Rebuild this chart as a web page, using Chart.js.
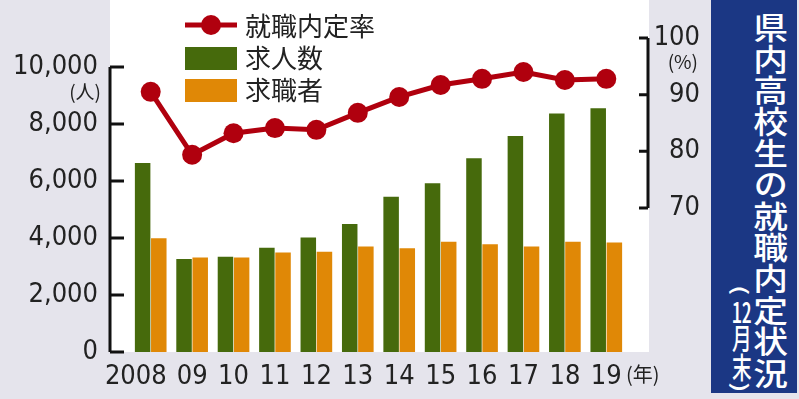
<!DOCTYPE html>
<html lang="ja">
<head>
<meta charset="utf-8">
<script src="https://cdn.jsdelivr.net/npm/chart.js@4.4.0/dist/chart.umd.min.js"></script>
<style>
  html, body { margin: 0; padding: 0; background: #e5e4ec; }
  #wrap { position: relative; width: 799px; height: 399px; overflow: hidden; }
  #chart { position: absolute; left: 0; top: 0; }
  .title-box { position: absolute; left: 711px; top: 0; width: 86px; height: 393px; background: #1b3784; }
  .title-main, .title-sub {
    position: absolute; writing-mode: vertical-rl; white-space: nowrap;
    font-family: "Noto Sans CJK JP", sans-serif; font-weight: 500; line-height: 1; color: #fff;
  }
  .title-main { left: 44px; top: 12px; font-size: 31px; letter-spacing: 0.4px; transform: scaleX(1.12); }
  .title-sub { left: 16px; top: 285px; font-size: 29px; transform: scaleX(0.68); }
  .tcy { text-combine-upright: all; }
</style>
</head>
<body>
<div id="wrap">
  <canvas id="chart" width="799" height="399"></canvas>
  <div class="title-box">
    <div class="title-main">県内高校生の就職内定状況</div>
    <div class="title-sub">(<span class="tcy">12</span>月末)</div>
  </div>
</div>
<script>
const years = ["2008", "09", "10", "11", "12", "13", "14", "15", "16", "17", "18", "19"];
const jobOffers = [6630, 3260, 3340, 3660, 4020, 4490, 5450, 5920, 6800, 7580, 8370, 8550];
const jobSeekers = [3990, 3320, 3320, 3490, 3520, 3700, 3640, 3870, 3780, 3700, 3870, 3840];
const offerRate = [90.5, 79.4, 83.2, 84.1, 83.8, 86.8, 89.6, 91.7, 92.8, 94.0, 92.6, 92.8];
const countTicks = [0, 2000, 4000, 6000, 8000, 10000];
const rateTicks = [70, 80, 90, 100];

const RED = "#b0000e";
const GREEN = "#466a0c";
const ORANGE = "#e08806";
const NUM_FONT = "'DejaVu Sans Condensed', 'Liberation Sans Narrow', sans-serif";
const JP_FONT = "'Noto Sans CJK JP', sans-serif";
const NUM_SIZE = 27;

const decor = {
  id: "decor",
  beforeDraw(chart) {
    const { ctx, chartArea: a } = chart;
    ctx.save();
    ctx.fillStyle = "#e5e4ec";
    ctx.fillRect(0, 0, chart.width, chart.height);
    // white plot panel spans from left axis line to right axis line
    ctx.fillStyle = "#ffffff";
    ctx.fillRect(a.left - 20, 0, a.right - a.left + 42, a.bottom);
    ctx.restore();
  },
  afterDraw(chart) {
    const { ctx, chartArea: a, scales } = chart;
    const y = scales.y, yr = scales.yRate, xs = scales.x;
    const lx = a.left - 20, rx = a.right + 21;
    ctx.save();
    ctx.strokeStyle = "#111";
    ctx.lineWidth = 3;
    // left axis
    ctx.beginPath();
    ctx.moveTo(lx, y.getPixelForValue(countTicks[countTicks.length - 1]));
    ctx.lineTo(lx, y.getPixelForValue(0));
    countTicks.forEach(v => {
      const py = y.getPixelForValue(v);
      ctx.moveTo(lx, py);
      ctx.lineTo(lx + 14, py);
    });
    ctx.stroke();
    // right axis
    ctx.beginPath();
    ctx.moveTo(rx, yr.getPixelForValue(rateTicks[rateTicks.length - 1]));
    ctx.lineTo(rx, yr.getPixelForValue(rateTicks[0]));
    rateTicks.forEach(v => {
      const py = yr.getPixelForValue(v);
      ctx.moveTo(rx, py);
      ctx.lineTo(rx - 9, py);
    });
    ctx.stroke();

    // first year label sits left of its group, as in the print
    const ref = xs.getLabelItems().find(it => it.label === years[1]);
    ctx.fillStyle = "#222";
    ctx.font = NUM_SIZE + "px " + NUM_FONT;
    ctx.textAlign = "right";
    ctx.textBaseline = ref.options.textBaseline || "middle";
    ctx.fillText(years[0], xs.getPixelForTick(0) + 16, ref.options.translation[1] + (ref.textOffset || 0));

    // unit labels
    ctx.textBaseline = "middle";
    ctx.font = "19px " + JP_FONT;
    ctx.textAlign = "right";
    ctx.fillText("(人)", 101, y.getPixelForValue(10000) + 25);
    ctx.fillText("(%)", 698, yr.getPixelForValue(100) + 24);
    ctx.textAlign = "left";
    ctx.font = "20px " + JP_FONT;
    ctx.fillText("(年)", 626, 374);

    // legend
    const sx = 185, sw = 52;
    ctx.strokeStyle = RED;
    ctx.lineWidth = 5;
    ctx.beginPath();
    ctx.moveTo(sx, 25);
    ctx.lineTo(sx + sw, 25);
    ctx.stroke();
    ctx.fillStyle = RED;
    ctx.beginPath();
    ctx.arc(sx + sw / 2, 25, 10, 0, Math.PI * 2);
    ctx.fill();
    ctx.fillStyle = GREEN;
    ctx.fillRect(sx, 47, sw, 23);
    ctx.fillStyle = ORANGE;
    ctx.fillRect(sx, 79, sw, 23);
    ctx.fillStyle = "#222";
    ctx.font = "26px " + JP_FONT;
    ctx.textAlign = "left";
    ctx.fillText("就職内定率", 245, 26);
    ctx.fillText("求人数", 245, 58);
    ctx.fillText("求職者", 245, 90);
    ctx.restore();
  }
};

function fixTicks(values) {
  return scale => { scale.ticks = values.map(v => ({ value: v })); };
}

new Chart(document.getElementById("chart").getContext("2d"), {
  type: "bar",
  data: {
    labels: years,
    datasets: [
      {
        type: "line",
        label: "就職内定率",
        data: offerRate,
        yAxisID: "yRate",
        borderColor: RED,
        backgroundColor: RED,
        borderWidth: 5,
        pointRadius: 10,
        pointBorderWidth: 0,
        pointBackgroundColor: RED,
        tension: 0,
        order: 0
      },
      {
        label: "求人数",
        data: jobOffers,
        yAxisID: "y",
        backgroundColor: GREEN,
        order: 1
      },
      {
        label: "求職者",
        data: jobSeekers,
        yAxisID: "y",
        backgroundColor: ORANGE,
        order: 1
      }
    ]
  },
  options: {
    responsive: false,
    animation: false,
    layout: { autoPadding: false, padding: { left: 0, right: 99, top: 0, bottom: 0 } },
    datasets: { bar: { categoryPercentage: 0.78, barPercentage: 0.96 } },
    plugins: { legend: { display: false }, tooltip: { enabled: false } },
    scales: {
      x: {
        grid: { display: false },
        border: { display: false },
        ticks: {
          color: "#222",
          font: { family: NUM_FONT, size: NUM_SIZE },
          padding: 1,
          maxRotation: 0,
          autoSkip: false,
          callback: (v, i) => (i === 0 ? "" : years[i])
        },
        afterFit: s => { s.height = 47; s.paddingLeft = 0; s.paddingRight = 0; }
      },
      y: {
        position: "left",
        min: 0,
        max: 12351,
        grid: { display: false, drawTicks: false },
        border: { display: false },
        afterBuildTicks: fixTicks(countTicks),
        ticks: {
          color: "#222",
          font: { family: NUM_FONT, size: NUM_SIZE },
          padding: 32,
          callback: v => v.toLocaleString("en-US")
        },
        afterFit: s => { s.width = 130; s.paddingTop = 0; s.paddingBottom = 0; }
      },
      yRate: {
        position: "right",
        min: 44.59,
        max: 106.71,
        grid: { display: false, drawTicks: false },
        border: { display: false },
        afterBuildTicks: fixTicks(rateTicks),
        ticks: {
          color: "#222",
          font: { family: NUM_FONT, size: NUM_SIZE },
          padding: 8,
          crossAlign: "far"
        },
        afterFit: s => { s.width = 73; s.paddingTop = 0; s.paddingBottom = 0; }
      }
    }
  },
  plugins: [decor]
});
</script>
</body>
</html>
